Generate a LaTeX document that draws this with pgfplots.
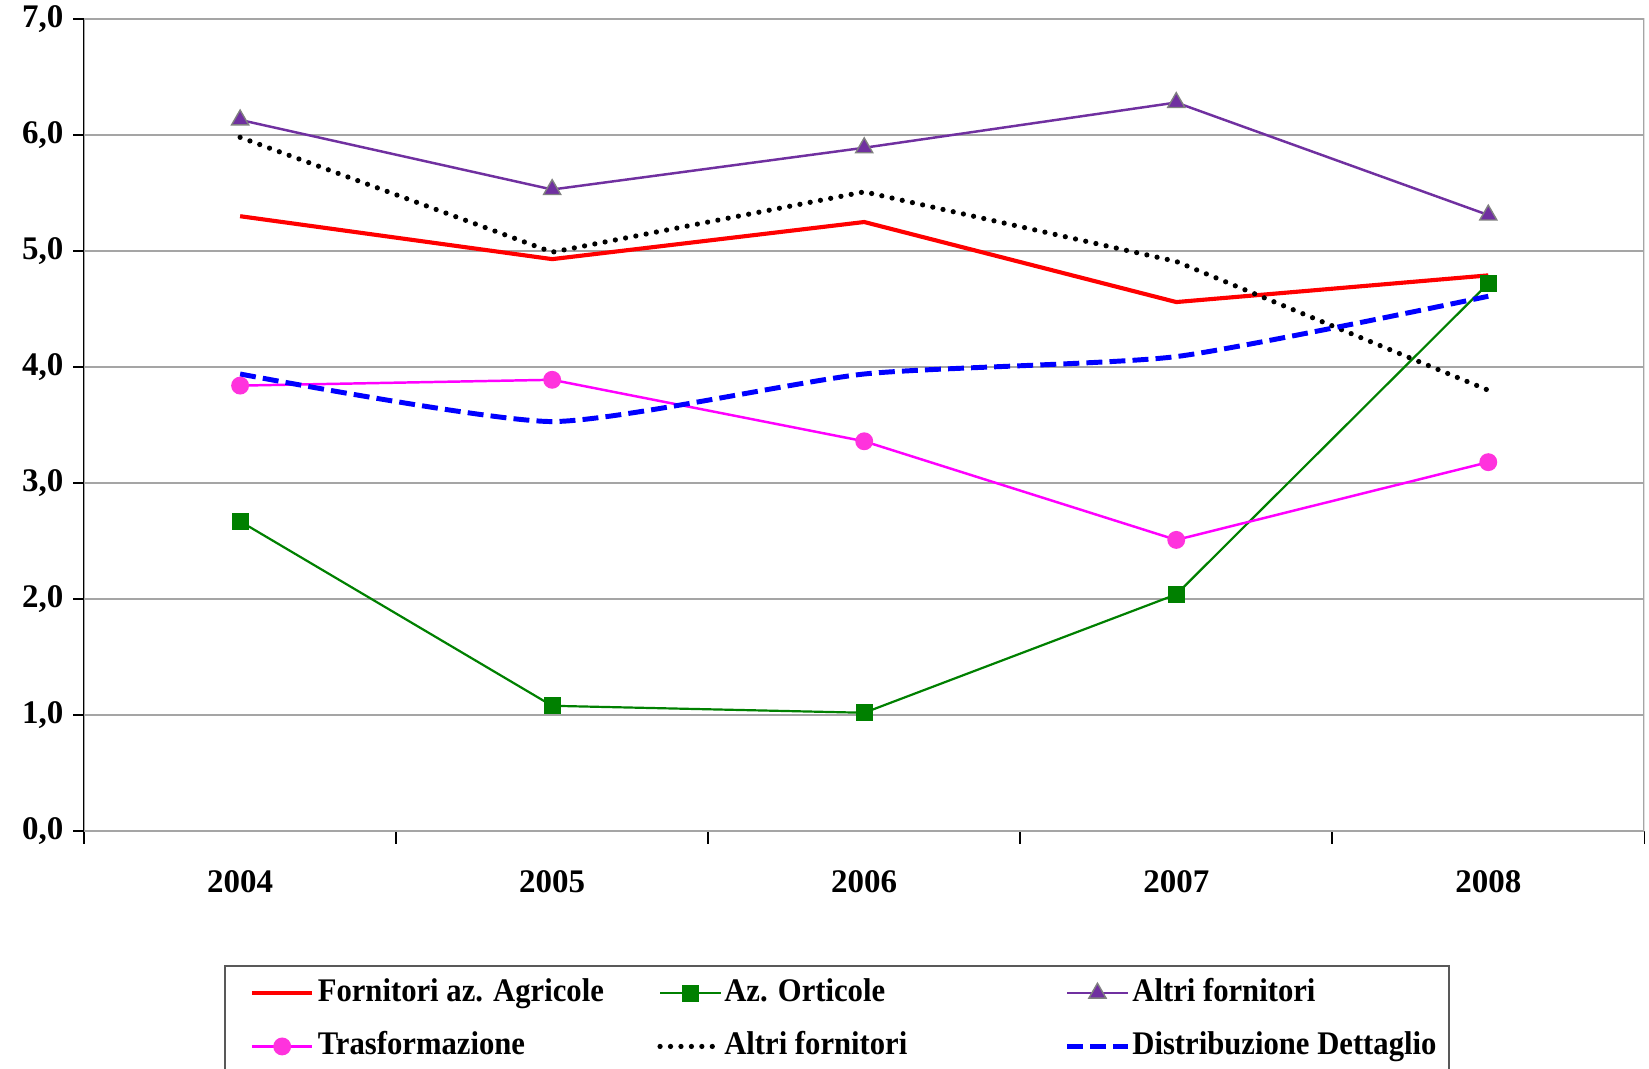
\documentclass[border=0pt]{standalone}
\usepackage{fontspec}
\setmainfont{Liberation Serif}
\newfontfamily\legfont{Liberation Serif}[FakeStretch=0.93]
\usepackage{pgfplots}
\pgfplotsset{compat=1.18}
\definecolor{cred}{RGB}{255,0,0}
\definecolor{cgreen}{RGB}{0,128,0}
\definecolor{cpurple}{RGB}{112,48,160}
\definecolor{cmag}{RGB}{255,0,255}
\definecolor{cmagm}{RGB}{255,51,221}
\definecolor{cblue}{RGB}{0,0,255}
\definecolor{cgrid}{RGB}{165,165,165}
\begin{document}
\begin{tikzpicture}
\begin{axis}[
  scale only axis, width=567.7pt, height=295.5pt,
  xmin=-0.5, xmax=4.5, ymin=0, ymax=7,
  xtick={0,1,2,3,4}, xticklabels={2004,2005,2006,2007,2008},
  minor xtick={-0.5,0.5,1.5,2.5,3.5,4.5},
  ytick={0,1,2,3,4,5,6,7},
  tick align=outside,
  major x tick style={draw=none},
  minor x tick style={black, line width=0.6pt},
  major y tick style={black, line width=0.6pt},
  major tick length=4pt, minor tick length=4.6pt,
  ymajorgrids, grid style={cgrid, line width=0.7pt},
  axis x line*=bottom, axis y line*=left,
  axis line style={black, line width=0.8pt, -},
  /pgf/number format/assume math mode=true,
  yticklabel={\pgfmathprintnumber[fixed,fixed zerofill,precision=1,use comma]{\tick}},
  ticklabel style={font=\bfseries\fontsize{12}{14}\selectfont},
  xticklabel style={yshift=-6.8pt},
  legend style={at={(0.0897,-0.165)}, anchor=north west, draw=black!65, line width=0.8pt,
    inner xsep=9pt, inner ysep=3.8pt, column sep=0pt, row sep=7.4pt,
    nodes={inner sep=0pt, text height=9pt, text depth=3pt, font=\legfont\bfseries\fontsize{12}{14}\selectfont}},
  legend columns=3, legend cell align=left,
  legend image code/.code={\draw[mark repeat=2,mark phase=2,#1] plot coordinates {(0pt,0pt) (11pt,0pt) (22pt,0pt)};},
]
\draw[cgrid, line width=0.8pt] (rel axis cs:0,0) rectangle (rel axis cs:1,1);
\addplot[cred, line width=1.5pt, mark=none] coordinates {(0,5.30) (1,4.93) (2,5.25) (3,4.56) (4,4.79)};
\addlegendentry{\makebox[124.8pt][l]{\hspace{1.2pt}Fornitori az. Agricole}}
\addplot[cgreen, line width=0.8pt, mark=square*, mark size=2.7pt, mark options={fill=cgreen, draw=cgreen, solid}] coordinates {(0,2.67) (1,1.08) (2,1.02) (3,2.04) (4,4.72)};
\addlegendentry{\makebox[124.3pt][l]{\hspace{0.4pt}Az. Orticole}}
\addplot[cpurple, line width=0.9pt, mark=triangle*, mark size=3.6pt, mark options={fill=cpurple, draw=gray, line width=0.5pt, solid}] coordinates {(0,6.13) (1,5.53) (2,5.89) (3,6.28) (4,5.31)};
\addlegendentry{\makebox[107pt][l]{\hspace{0.8pt}Altri fornitori}}
\addplot[cmag, line width=0.9pt, mark=*, mark size=2.8pt, mark options={fill=cmagm, draw=cmagm, solid}] coordinates {(0,3.84) (1,3.89) (2,3.36) (3,2.51) (4,3.18)};
\addlegendentry{\makebox[124.8pt][l]{\hspace{1.2pt}Trasformazione}}
\addplot[black, line width=1.9pt, line cap=round, dash pattern=on 0pt off 3.8pt, mark=none] coordinates {(0,5.98) (1,4.99) (2,5.51) (3,4.91) (4,3.80)};
\addlegendentry{\makebox[124.3pt][l]{\hspace{0.4pt}Altri fornitori}}
\addplot[cblue, line width=1.8pt, dash pattern=on 5.8pt off 2.6pt, mark=none, smooth, tension=0.35] coordinates {(0,3.94) (1,3.53) (2,3.94) (3,4.09) (4,4.61)};
\addlegendentry{\makebox[107pt][l]{\hspace{0.8pt}Distribuzione Dettaglio}}
\end{axis}
\pgfresetboundingbox
\useasboundingbox (-30.6pt,-86.2pt) rectangle (569.4pt,302.4pt);
\end{tikzpicture}
\end{document}
